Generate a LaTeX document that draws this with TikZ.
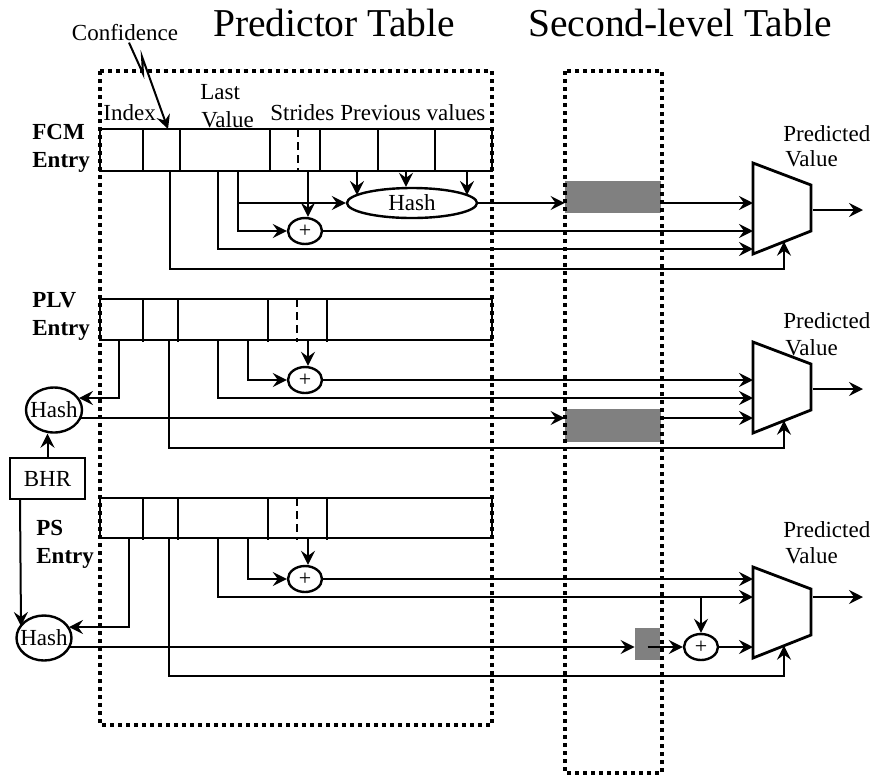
\documentclass[tikz,border=0pt]{standalone}
\usepackage{fontspec}
\setmainfont{Liberation Serif}
\usetikzlibrary{arrows.meta,calc,shapes.geometric}
\definecolor{boxgray}{HTML}{808080}
\tikzset{
 conn/.style={line width=1pt, -{Stealth[length=7pt,width=7pt,inset=2.5pt]}},
 cell/.style={line width=1pt},
 celldash/.style={line width=1pt, dash pattern=on 4pt off 2.5pt},
 cellthin/.style={line width=0.6pt},
 dotbox/.style={line width=2pt, dash pattern=on 2pt off 2pt},
 hashnode/.style={ellipse, draw, line width=1.2pt, inner sep=0pt, font=\fontsize{11.5}{13}\selectfont},
 plusnode/.style={ellipse, draw, line width=1.2pt, inner sep=0pt, minimum width=17pt, minimum height=13pt, font=\fontsize{11}{11}\selectfont},
 lbl/.style={anchor=base west, inner sep=0pt, font=\fontsize{11.5}{13}\selectfont},
 blbl/.style={anchor=base west, inner sep=0pt, font=\fontsize{11.5}{13}\selectfont\bfseries},
 titlelbl/.style={anchor=base, inner sep=0pt, font=\fontsize{19.75}{22}\selectfont},
 graybox/.style={fill=boxgray, draw=none, inner sep=0pt},
 muxbody/.style={line width=1.4pt, line join=miter},
}
\begin{document}
\begin{tikzpicture}[x=0.5pt,y=-0.5pt]
\useasboundingbox (0,0) rectangle (872,778);

% titles
\node[titlelbl] (tpred) at (334,36) {Predictor Table};
\node[titlelbl] (tsec) at (680,36) {Second-level Table};
\node[lbl, anchor=base] (conf) at (125,40) {Confidence};

% ---------------- FCM entry ----------------
\node[blbl] (fcmA) at (32,139) {FCM};
\node[blbl] (fcmB) at (32,167) {Entry};
\node[lbl] (lIndex) at (103,120) {Index};
\node[lbl] (lLast) at (200,99) {Last};
\node[lbl] (lValue) at (201,127) {Value};
\node[lbl] (lStrides) at (270,120) {Strides};
\node[lbl] (lPrev) at (340,120) {Previous values};

\draw[cell] (100,129) rectangle (492,171);
\foreach \x in {143,180,270,320,378,435} \draw[cell] (\x,129) -- (\x,171);
\draw[celldash] (298,129) -- (298,171);

\coordinate (fcell) at (168,129);
\draw[conn] ($(conf.south)+(4,2)$) -- ++(14,31) -- ++(-1,-17) -- (fcell);

\coordinate (f_conf) at (170,171);
\coordinate (f_lv1) at (218,171);
\coordinate (f_lv2) at (238,171);
\coordinate (f_str) at (308,171);
\coordinate (f_pv1) at (357,171);
\coordinate (f_pv2) at (406,171);
\coordinate (f_pv3) at (467,171);

\node[hashnode, minimum width=65pt, minimum height=15pt] (h1) at (412,203) {Hash};
\node[plusnode] (p1) at (305,231) {+};
\node[graybox, minimum width=48pt, minimum height=16pt] (g1) at (613,197) {};

% mux 1
\draw[muxbody] (753,163) -- (811,185) -- (811,231) -- (753,254) -- cycle;
\coordinate (m1a) at (753,203);
\coordinate (m1b) at (753,231);
\coordinate (m1c) at (753,249);
\coordinate (m1sel) at (784,241.7);
\coordinate (m1low) at (784,269);
\coordinate (m1o) at (813,210);
\coordinate (m1e) at (863,210);

\draw[conn] (f_lv2) |- (p1.west);
\draw[conn] ($(f_lv2)+(0,32)$) -- (h1.west);
\draw[conn] (f_str) -- (f_str |- p1.north);
\draw[conn] (f_pv1) -- ($(h1.center)+(-55,-8)$);
\draw[conn] (f_pv2) -- (f_pv2 |- h1.north);
\draw[conn] (f_pv3) -- ($(h1.center)+(55,-8)$);
\draw[conn] (h1.east) -- (h1.east -| g1.west);
\draw[conn] (g1.east |- m1a) -- (m1a);
\draw[conn] (p1.east) -- (m1b);
\draw[conn] (f_lv1) |- (m1c);
\draw[conn] (f_conf) |- (m1low) -- (m1sel);
\draw[conn] (m1o) -- (m1e);
\node[lbl] (pv1a) at (783,141) {Predicted};
\node[lbl] (pv1b) at (785,166) {Value};

% ---------------- PLV entry ----------------
\node[blbl] (plvA) at (32,307) {PLV};
\node[blbl] (plvB) at (32,335) {Entry};
\draw[cell] (100,299) rectangle (492,340);
\foreach \x in {143,178,268} \draw[cell] (\x,299) -- (\x,342);
\draw[celldash] (297,299) -- (297,342);
\draw[cellthin] (327,299) -- (327,342);

\coordinate (p_idx) at (119,340);
\coordinate (p_conf) at (169,340);
\coordinate (p_lv1) at (218,340);
\coordinate (p_lv2) at (248,340);
\coordinate (p_str) at (308,340);

\node[hashnode, minimum width=28pt, minimum height=22.5pt] (h2) at (54,410) {\makebox[0pt]{Hash}};
\node[draw, line width=1pt, minimum width=37.5pt, minimum height=20.5pt, inner sep=0pt, font=\fontsize{11.5}{13}\selectfont] (bhr) at (47.5,478.5) {BHR};
\node[plusnode] (p2) at (305,380) {+};
\node[graybox, minimum width=48pt, minimum height=16.5pt] (g2) at (613,425.5) {};

\draw[muxbody] (753,342) -- (811,364) -- (811,410) -- (753,433) -- cycle;
\coordinate (m2a) at (753,380);
\coordinate (m2b) at (753,398);
\coordinate (m2c) at (753,418);
\coordinate (m2sel) at (784,420.7);
\coordinate (m2low) at (784,448);
\coordinate (m2o) at (813,389);
\coordinate (m2e) at (863,389);

\draw[conn] (p_idx) |- ($(h2.center)+(25,-12)$);
\draw[conn] (bhr.north) -- (bhr.north |- h2.south);
\draw[conn] (p_lv2) |- (p2.west);
\draw[conn] (p_str) -- (p_str |- p2.north);
\draw[conn] (p2.east) -- (m2a);
\draw[conn] (p_lv1) |- (m2b);
\coordinate (h2o) at ($(h2.center)+(26,8)$);
\draw[conn] (h2o) -- (h2o -| g2.west);
\draw[conn] (g2.east |- m2c) -- (m2c);
\draw[conn] (p_conf) |- (m2low) -- (m2sel);
\draw[conn] (m2o) -- (m2e);
\node[lbl] (pv2a) at (783,328) {Predicted};
\node[lbl] (pv2b) at (785,355) {Value};

% ---------------- PS entry ----------------
\node[blbl] (psA) at (36,535) {PS};
\node[blbl] (psB) at (36,563) {Entry};
\draw[cell] (100,498) rectangle (492,538);
\foreach \x in {143,178,268} \draw[cell] (\x,498) -- (\x,540);
\draw[celldash] (297,498) -- (297,540);
\draw[cellthin] (327,498) -- (327,540);

\coordinate (s_idx) at (129,538);
\coordinate (s_conf) at (169,538);
\coordinate (s_lv1) at (218,538);
\coordinate (s_lv2) at (248,538);
\coordinate (s_str) at (308,538);

\node[hashnode, minimum width=27.5pt, minimum height=22.5pt] (h3) at (44,638) {\makebox[0pt]{Hash}};
\node[plusnode] (p3) at (305,579) {+};
\node[plusnode] (p4) at (701,647) {+};
\node[graybox, minimum width=12.5pt, minimum height=16pt] (g3) at (647.5,644) {};

\draw[muxbody] (753,567) -- (811,589) -- (811,635) -- (753,658) -- cycle;
\coordinate (m3a) at (753,579);
\coordinate (m3b) at (753,597);
\coordinate (m3c) at (753,647);
\coordinate (m3sel) at (784,645.7);
\coordinate (m3low) at (784,676);
\coordinate (m3o) at (813,597);
\coordinate (m3e) at (863,597);

\draw[conn] ($(bhr.south west)+(11,0)$) -- ($(h3.center)+(-23,-12)$);
\draw[conn] (s_idx) |- ($(h3.center)+(25,-11)$);
\coordinate (h3o) at ($(h3.center)+(25,9)$);
\draw[conn] (h3o) -- (h3o -| g3.west);
\draw[conn] (h3o -| g3.center) -- (p4.west);
\draw[conn] (p4.north |- m3b) -- (p4.north);
\draw[conn] (p4.east) -- (m3c);
\draw[conn] (s_lv2) |- (p3.west);
\draw[conn] (s_str) -- (s_str |- p3.north);
\draw[conn] (p3.east) -- (m3a);
\draw[conn] (s_lv1) |- (m3b);
\draw[conn] (s_conf) |- (m3low) -- (m3sel);
\draw[conn] (m3o) -- (m3e);
\node[lbl] (pv3a) at (783,537) {Predicted};
\node[lbl] (pv3b) at (785,563) {Value};

% dotted tables
\draw[dotbox] (100,71) rectangle (492,725);
\draw[dotbox] (565,71) rectangle (662,773);
\end{tikzpicture}
\end{document}
